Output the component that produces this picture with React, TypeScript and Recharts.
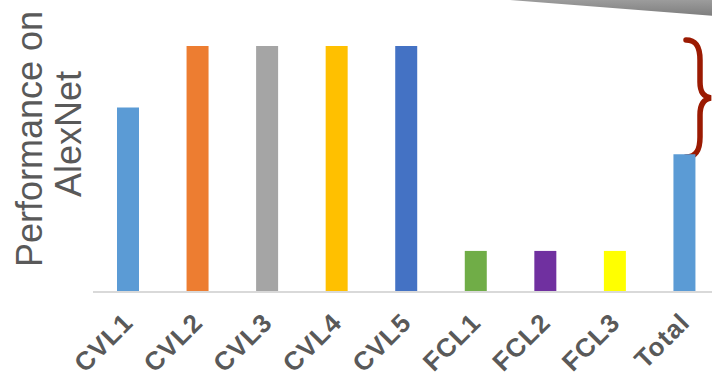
import React from "react";
import { BarChart, Bar, XAxis, YAxis, Cell, Customized } from "recharts";

const layers = ["CVL1", "CVL2", "CVL3", "CVL4", "CVL5", "FCL1", "FCL2", "FCL3", "Total"];
const performance = [75, 100, 100, 100, 100, 16.7, 16.7, 16.7, 56];
const barColors = ["#5b9bd5", "#ed7d31", "#a5a5a5", "#ffc000", "#4472c4", "#70ad47", "#7030a0", "#ffff00", "#5b9bd5"];
const yTitleLines = ["Performance on", "AlexNet"];

const data = layers.map((layer, i) => ({ layer, value: performance[i] }));

const FONT = '"Liberation Sans", Arial, sans-serif';

const LayerTick = (props: any) => {
  const { x, y, payload } = props;
  const ax = x + 7;
  const ay = y + 24;
  return (
    <text
      x={ax}
      y={ay}
      transform={`rotate(-45, ${ax}, ${ay})`}
      textAnchor="end"
      fill="#595959"
      fontFamily={FONT}
      fontWeight="bold"
      fontSize={26}
      letterSpacing={1}
    >
      {payload.value}
    </text>
  );
};

const Decorations = () => (
  <g>
    <defs>
      <linearGradient id="calloutFill" x1="0" y1="0" x2="0" y2="1">
        <stop offset="0" stopColor="#9c9c9c" />
        <stop offset="1" stopColor="#7d7d7d" />
      </linearGradient>
    </defs>
    <polygon points="510,0 720,0 720,16.5" fill="url(#calloutFill)" />
    <path
      d="M686,40 C697,40 700,48 700,60 L700,82 C700,93 704,97 711,98 C704,99 700,104 700,115 L700,137 C700,149 697,157 686,157"
      fill="none"
      stroke="#9b1a02"
      strokeWidth={5.5}
      strokeLinecap="round"
    />
    <text
      x={42}
      y={139}
      transform="rotate(-90, 42, 139)"
      textAnchor="middle"
      fill="#595959"
      fontFamily={FONT}
      fontSize={36}
    >
      {yTitleLines[0]}
    </text>
    <text
      x={81}
      y={134}
      transform="rotate(-90, 81, 134)"
      textAnchor="middle"
      fill="#595959"
      fontFamily={FONT}
      fontSize={36}
    >
      {yTitleLines[1]}
    </text>
  </g>
);

export default function App() {
  return (
    <div
      style={{
        position: "fixed",
        left: 0,
        top: 0,
        width: 712,
        height: 379,
        overflow: "hidden",
        background: "#ffffff",
      }}
    >
      <BarChart
        width={720}
        height={379}
        data={data}
        margin={{ top: 46, right: 1, bottom: 0, left: 93 }}
        barCategoryGap={0}
      >
        <YAxis hide domain={[0, 100]} />
        <XAxis
          dataKey="layer"
          height={87}
          interval={0}
          axisLine={{ stroke: "#d9d9d9", strokeWidth: 2 }}
          tickLine={false}
          tick={<LayerTick />}
        />
        <Bar dataKey="value" barSize={22} isAnimationActive={false}>
          {data.map((d, i) => (
            <Cell key={d.layer} fill={barColors[i]} />
          ))}
        </Bar>
        <Customized component={Decorations} />
      </BarChart>
    </div>
  );
}
